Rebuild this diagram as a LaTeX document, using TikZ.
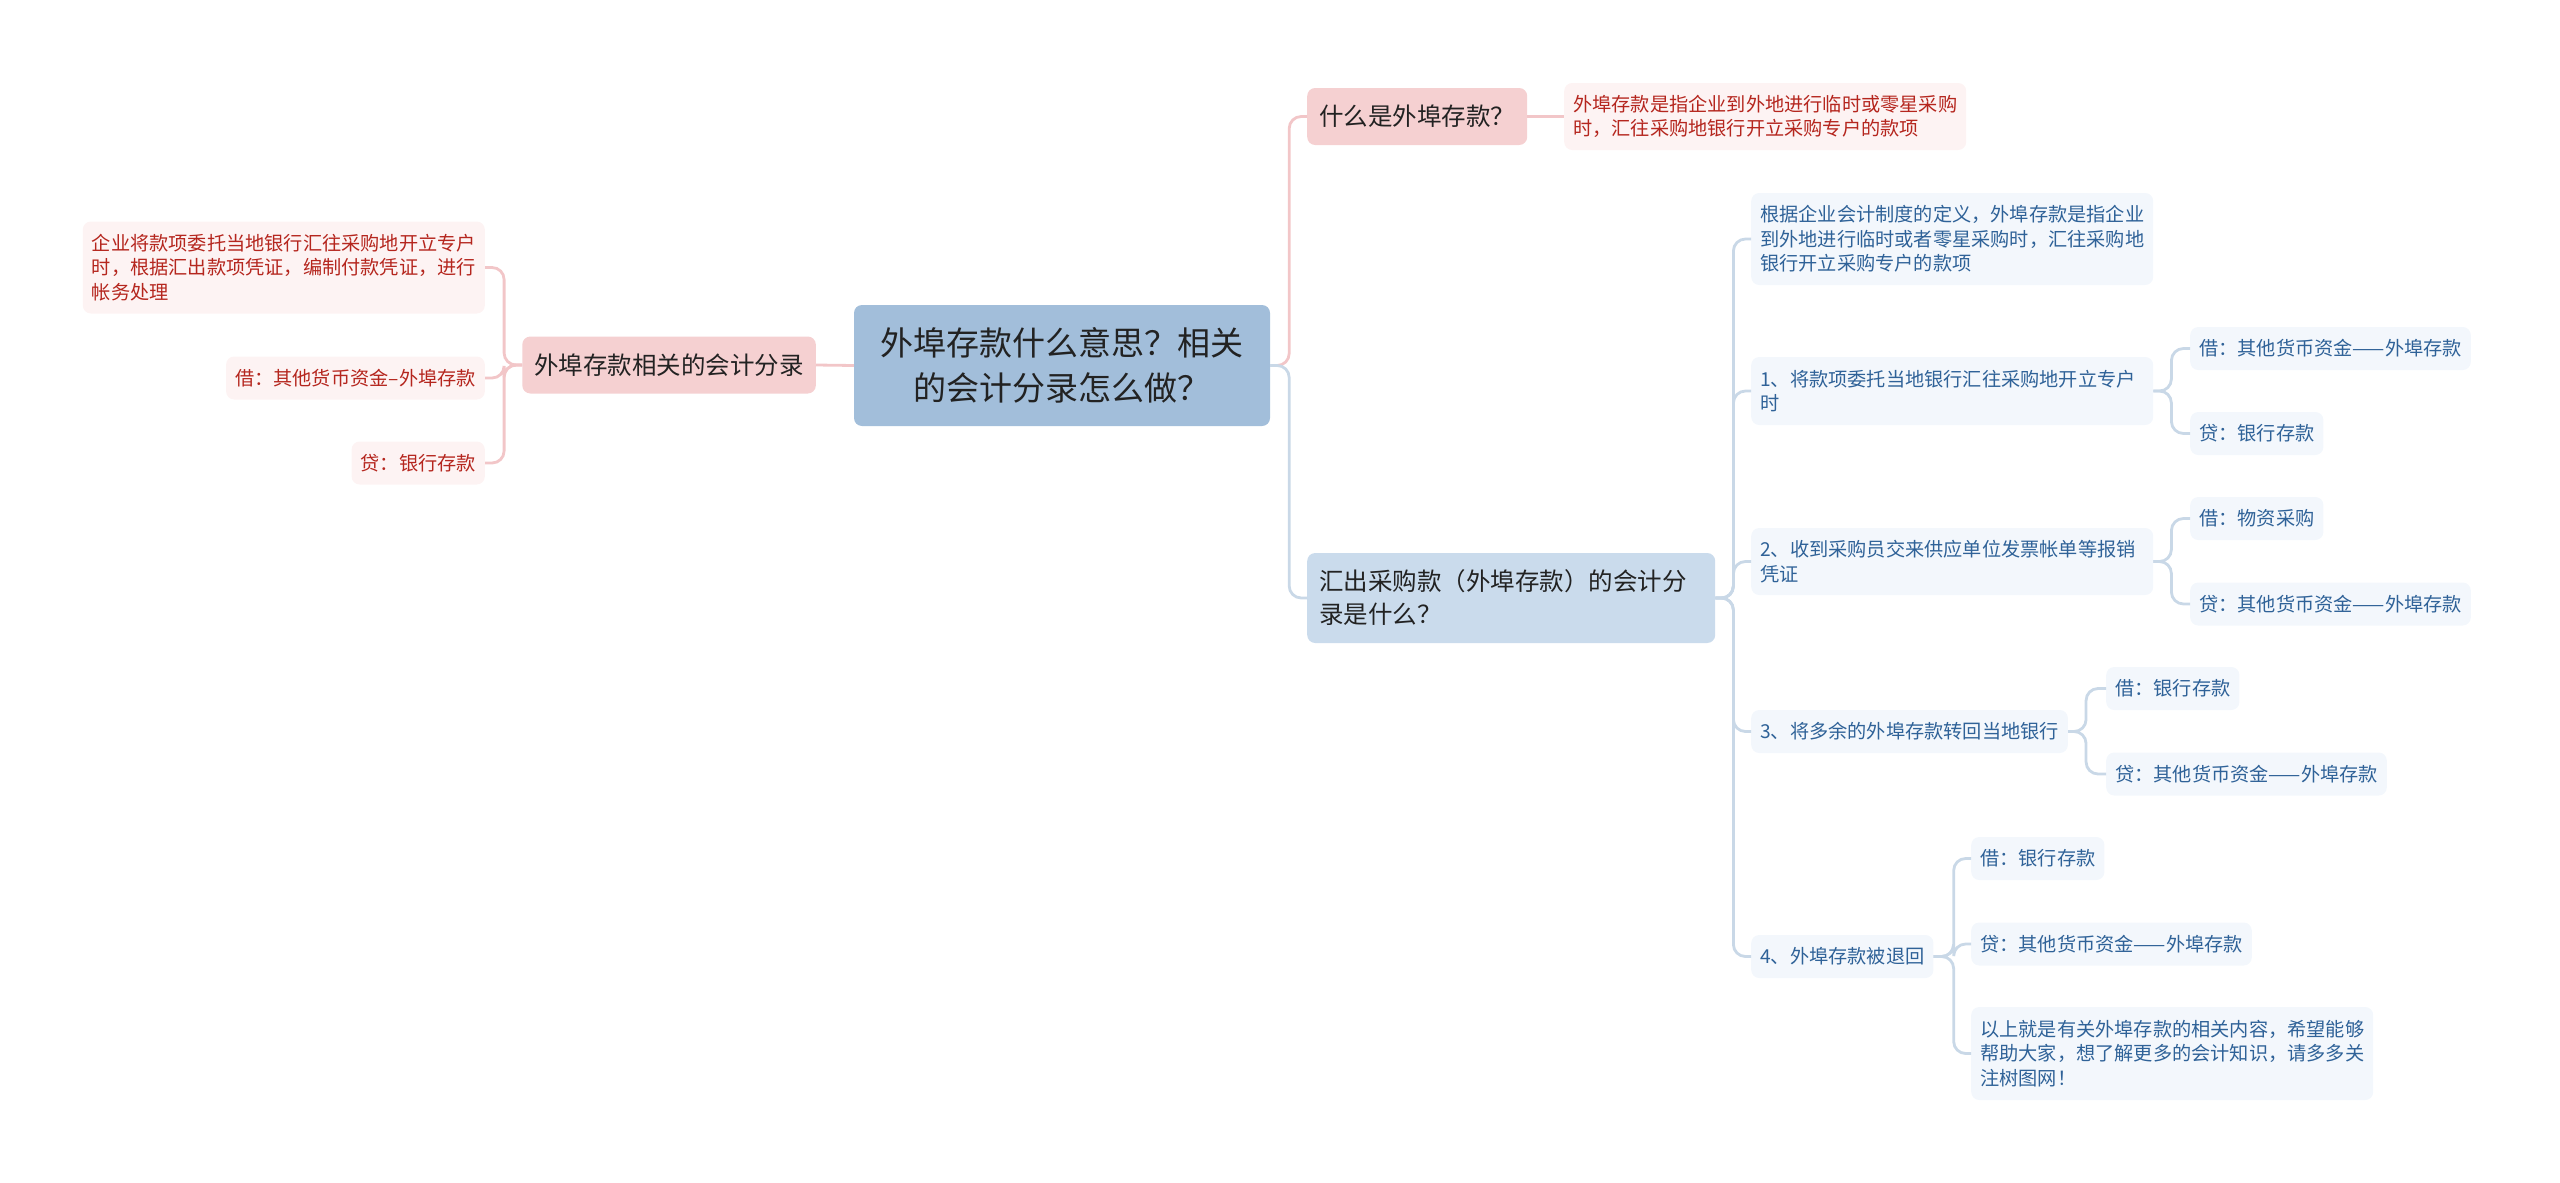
\documentclass[tikz,border=0pt]{standalone}
\usepackage{fontspec}
\setmainfont{Noto Sans CJK SC}
\usepackage{tikz}
\usetikzlibrary{positioning}
\definecolor{rootblue}{HTML}{A2BEDA}
\definecolor{pinkmain}{HTML}{F5D0D1}
\definecolor{bluemain}{HTML}{CADBEC}
\definecolor{pinkleaf}{HTML}{FDF3F3}
\definecolor{blueleaf}{HTML}{F3F7FC}
\definecolor{redtext}{HTML}{B5261E}
\definecolor{bluetext}{HTML}{2F6298}
\definecolor{pinkline}{HTML}{F2C6C8}
\definecolor{blueline}{HTML}{C9D8E7}
\definecolor{darktext}{HTML}{222222}

\begin{document}
\begin{tikzpicture}[x=1pt, y=-1pt,
    box/.style={rectangle, rounded corners=8pt, inner xsep=9pt, inner ysep=0pt, align=left},
    rootnode/.style={box, fill=rootblue, text=darktext, minimum width=416pt, minimum height=121pt, align=center, font=\fontsize{33}{45}\selectfont},
    topic/.style={box, inner xsep=12pt, fill=#1, text=darktext, minimum height=57pt, font=\fontsize{24.5}{33}\selectfont},
    pleaf/.style={box, fill=pinkleaf, text=redtext, minimum height=43pt, font=\fontsize{19.2}{24.6}\selectfont},
    bleaf/.style={box, fill=blueleaf, text=bluetext, minimum height=43pt, font=\fontsize{19.2}{24.6}\selectfont},
    pline/.style={draw=pinkline, line width=2.8pt, rounded corners=12pt},
    bline/.style={draw=blueline, line width=2.8pt, rounded corners=12pt},
]
\useasboundingbox (0,0) rectangle (2560,1183);

\node[rootnode] (root) at (1062,365.5) {外埠存款什么意思？相关\\的会计分录怎么做？};

\node[topic=pinkmain, anchor=east] (entry) at (816,365) {外埠存款相关的会计分录};
\node[pleaf, anchor=east, minimum height=92pt] (entryA) at (485,267.5) {企业将款项委托当地银行汇往采购地开立专户\\时，根据汇出款项凭证，编制付款凭证，进行\\帐务处理};
\node[pleaf, anchor=east] (entryB) at (485,378) {借：其他货币资金–外埠存款};
\node[pleaf, anchor=east] (entryC) at (485,463) {贷：银行存款};

\node[topic=pinkmain, anchor=west] (what) at (1307,116.5) {什么是外埠存款？};
\node[pleaf, anchor=west, minimum height=67pt] (whatA) at (1564,116.5) {外埠存款是指企业到外地进行临时或零星采购\\时，汇往采购地银行开立采购专户的款项};

\node[topic=bluemain, anchor=west, minimum height=90pt, text width=384pt] (remit) at (1307,598) {汇出采购款（外埠存款）的会计分\\录是什么？};
\node[bleaf, anchor=west, minimum height=92pt, text width=384pt] (def) at (1751,239) {根据企业会计制度的定义，外埠存款是指企业\\到外地进行临时或者零星采购时，汇往采购地\\银行开立采购专户的款项};
\node[bleaf, anchor=west, minimum height=68pt, text width=384pt] (stepA) at (1751,391) {1、将款项委托当地银行汇往采购地开立专户\\时};
\node[bleaf, anchor=west, minimum height=67pt, text width=384pt] (stepB) at (1751,561.5) {2、收到采购员交来供应单位发票帐单等报销\\凭证};
\node[bleaf, anchor=west] (stepC) at (1751,731.5) {3、将多余的外埠存款转回当地银行};
\node[bleaf, anchor=west] (stepD) at (1751,956.5) {4、外埠存款被退回};

\node[bleaf, anchor=west] (stepAdr) at (2190,348.5) {借：其他货币资金——外埠存款};
\node[bleaf, anchor=west] (stepAcr) at (2190,433.5) {贷：银行存款};
\node[bleaf, anchor=west] (stepBdr) at (2190,518.5) {借：物资采购};
\node[bleaf, anchor=west] (stepBcr) at (2190,604) {贷：其他货币资金——外埠存款};
\node[bleaf, anchor=west] (stepCdr) at (2106,688.5) {借：银行存款};
\node[bleaf, anchor=west] (stepCcr) at (2106,774) {贷：其他货币资金——外埠存款};
\node[bleaf, anchor=west] (stepDdr) at (1971,858.5) {借：银行存款};
\node[bleaf, anchor=west] (stepDcr) at (1971,944) {贷：其他货币资金——外埠存款};
\node[bleaf, anchor=west, minimum height=93pt] (closing) at (1971,1053.5) {以上就是有关外埠存款的相关内容，希望能够\\帮助大家，想了解更多的会计知识，请多多关\\注树图网！};

\draw[pline] (root.west) -- (entry.east);
\foreach \leaf in {entryA, entryB, entryC}
  \draw[pline] (entry.west) -- ++(-18,0) |- (\leaf.east);

\draw[pline] (root.east) -- ++(19,0) |- (what.west);
\draw[bline] (root.east) -- ++(19,0) |- (remit.west);
\draw[pline] (what.east) -- (whatA.west);

\foreach \leaf in {def, stepA, stepB, stepC, stepD}
  \draw[bline] (remit.east) -- ++(18,0) |- (\leaf.west);
\foreach \leaf in {stepAdr, stepAcr}
  \draw[bline] (stepA.east) -- ++(18,0) |- (\leaf.west);
\foreach \leaf in {stepBdr, stepBcr}
  \draw[bline] (stepB.east) -- ++(18,0) |- (\leaf.west);
\foreach \leaf in {stepCdr, stepCcr}
  \draw[bline] (stepC.east) -- ++(18,0) |- (\leaf.west);
\foreach \leaf in {stepDdr, stepDcr, closing}
  \draw[bline] (stepD.east) -- ++(20,0) |- (\leaf.west);
\end{tikzpicture}
\end{document}
